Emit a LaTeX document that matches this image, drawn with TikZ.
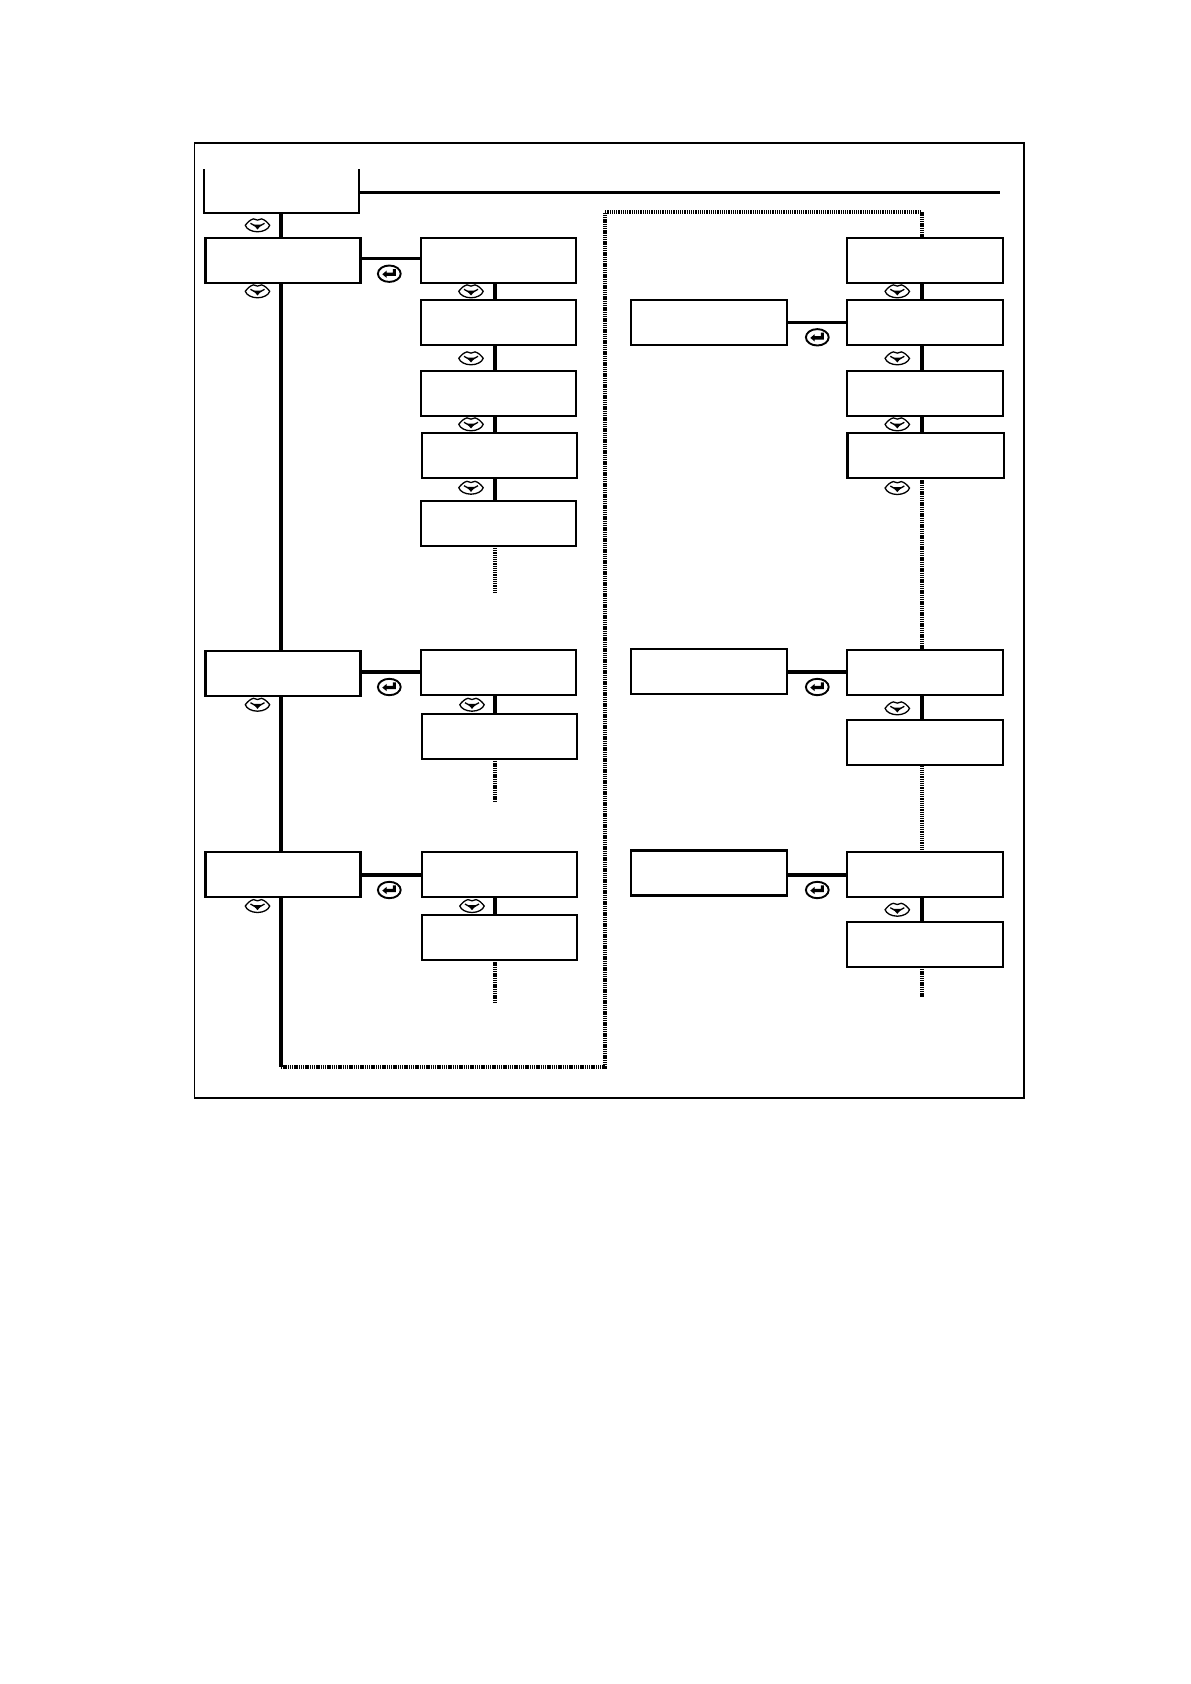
\documentclass[tikz,border=0pt]{standalone}
\tikzset{
  x=1pt,y=-1pt,
  frameline/.style={draw=black,line width=1.9pt},
  lcd/.style={draw=black,line width=2.1pt,fill=white,inner sep=0pt,outer sep=0pt,rectangle,minimum width=156.2pt,minimum height=45pt},
  lcdn/.style={lcd,minimum width=155pt},
  solidlink/.style={draw=black,line width=3.7pt},
  dotlink/.style={draw=black,line width=3.8pt,dash pattern=on 1.3pt off 0.9pt},
  downkey/.pic={
    \draw[line width=1.3pt,fill=white] (-12.2,0) .. controls (-10,-3) and (-7,-5.8) .. (-4,-6.4)
      .. controls (-2,-6.4) and (-1.5,-5.2) .. (0,-5.2)
      .. controls (1.5,-5.2) and (2,-6.4) .. (4,-6.4)
      .. controls (7,-5.8) and (10,-3) .. (12.2,0)
      .. controls (11,3.8) and (6,6.4) .. (0,6.5)
      .. controls (-6,6.4) and (-11,3.8) .. (-12.2,0) -- cycle;
    \draw[line width=1.3pt] (-7,-2) -- (0,2) -- (7,-2);
    \fill (-4.2,-0.8) -- (4.2,-0.8) -- (0,4.2) -- cycle;
  },
  enterkey/.pic={
    \draw[line width=1.9pt,fill=white] (0,0) ellipse [x radius=11.4pt,y radius=8.2pt];
    \fill (-7,0.6) -- (-2.6,-3.2) -- (-2.6,-1.2) -- (3.6,-1.2) -- (3.6,-4.6) -- (6.6,-4.6) -- (6.6,2.2) -- (-2.6,2.2) -- (-2.6,4.2) -- cycle;
  }
}
\begin{document}
\begin{tikzpicture}
\useasboundingbox (0,0) rectangle (1191,1684);
\fill[white] (0,0) rectangle (1191,1684);
\coordinate (colA) at (281,0);
\coordinate (colB) at (495,0);
\coordinate (colC) at (921.7,0);
\draw[frameline] (194.5,143) rectangle (1024,1097.7);

% top open box
\node[inner sep=0pt,outer sep=0pt,minimum width=155pt,minimum height=43.5pt] (top) at (281.5,190.9) {};
\draw[line width=2pt] (top.north west) -- (top.south west) -- (top.south east) -- (top.north east);
\coordinate (topend) at (1000,192.3);
\draw[line width=2.8pt] (top.east |- topend) -- (topend);

\coordinate (mainend) at (281,1067);
\coordinate (dotB1) at (495,593);
\coordinate (dotB2) at (495,801);
\coordinate (dotB3) at (495,1002);
\coordinate (dotC4) at (921.7,997);
\coordinate (cornerBL) at (604.9,1067);
\coordinate (cornerTL) at (604.9,212);
\coordinate (cornerTR) at (921.7,212);

% left column
\node[lcdn] (a1) at (283,260.2) {};
\node[lcdn] (a2) at (283,673.3) {};
\node[lcdn] (a3) at (283,874.3) {};
% second column
\node[lcdn] (b1) at (498.7,260.2) {};
\node[lcdn] (b2) at (498.7,322.5) {};
\node[lcdn] (b3) at (498.7,393.2) {};
\node[lcdn] (b4) at (499.1,455.5) {};
\node[lcdn] (b5) at (498.7,523.2) {};
\node[lcdn] (b6) at (498.7,672.8) {};
\node[lcdn] (b7) at (499.5,736.3) {};
\node[lcdn] (b8) at (499.5,874.2) {};
\node[lcdn] (b9) at (499.2,937.5) {};
% third column
\node[lcd] (d1) at (709,322.2) {};
\node[lcd] (d2) at (709,671.8) {};
\node[lcd] (d3) at (709,873) {};
% fourth column
\node[lcd] (c1) at (925.2,260.2) {};
\node[lcd] (c2) at (925.2,322.5) {};
\node[lcd] (c3) at (925.2,393.2) {};
\node[lcd] (c4) at (925.6,455.5) {};
\node[lcd] (c5) at (925.2,672.5) {};
\node[lcd] (c6) at (925.2,742.8) {};
\node[lcd] (c7) at (925.2,874.2) {};
\node[lcd] (c8) at (925.2,944.3) {};

% vertical solid links
\draw[solidlink] (top.south -| colA) -- (a1.north -| colA);
\draw[solidlink] (a1.south -| colA) -- (a2.north -| colA);
\draw[solidlink] (a2.south -| colA) -- (a3.north -| colA);
\draw[solidlink] (a3.south -| colA) -- (mainend);
\draw[solidlink] (b1.south -| colB) -- (b2.north -| colB);
\draw[solidlink] (b2.south -| colB) -- (b3.north -| colB);
\draw[solidlink] (b3.south -| colB) -- (b4.north -| colB);
\draw[solidlink] (b4.south -| colB) -- (b5.north -| colB);
\draw[solidlink] (b6.south -| colB) -- (b7.north -| colB);
\draw[solidlink] (b8.south -| colB) -- (b9.north -| colB);
\draw[solidlink] (c1.south -| colC) -- (c2.north -| colC);
\draw[solidlink] (c2.south -| colC) -- (c3.north -| colC);
\draw[solidlink] (c3.south -| colC) -- (c4.north -| colC);
\draw[solidlink] (c5.south -| colC) -- (c6.north -| colC);
\draw[solidlink] (c7.south -| colC) -- (c8.north -| colC);

% horizontal solid links
\draw[solidlink,line width=3pt] (a1.east |- 0,258.3) -- (b1.west |- 0,258.3);
\draw[solidlink] (a2.east |- 0,672) -- (b6.west |- 0,672);
\draw[solidlink] (a3.east |- 0,875) -- (b8.west |- 0,875);
\draw[solidlink,line width=3pt] (d1.east |- 0,322.3) -- (c2.west |- 0,322.3);
\draw[solidlink] (d2.east |- 0,672) -- (c5.west |- 0,672);
\draw[solidlink] (d3.east |- 0,875) -- (c7.west |- 0,875);

% dotted links
\draw[dotlink] (b5.south -| colB) -- (dotB1);
\draw[dotlink] (b7.south -| colB) -- (dotB2);
\draw[dotlink] (b9.south -| colB) -- (dotB3);
\draw[dotlink] (c4.south -| colC) -- (c5.north -| colC);
\draw[dotlink] (c6.south -| colC) -- (c7.north -| colC);
\draw[dotlink] (c8.south -| colC) -- (dotC4);
\draw[dotlink] (mainend) -- (cornerBL) -- (cornerTL) -- (cornerTR) -- (c1.north -| colC);

% key icons
\foreach \px/\py in {257.5/225.3,257.5/291.3,257.5/704.7,257.5/906,
                     471/291.3,471/358.3,471/424.3,471/487.7,472/704.7,472/906,
                     897.3/291.3,897.3/358.3,897.3/424.3,897.3/488,897.3/708.3,897.3/909.7}
  \pic at (\px,\py) {downkey};
\foreach \px/\py in {389.3/273.7,389.3/687,389.3/890,817.3/337.3,817.3/687,817.3/890}
  \pic at (\px,\py) {enterkey};
\end{tikzpicture}
\end{document}
